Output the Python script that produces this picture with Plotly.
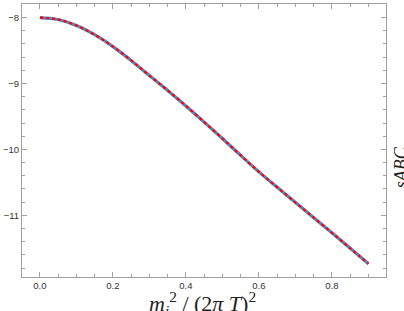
import plotly.graph_objects as go

x_vals = [0.0, 0.05, 0.1, 0.15, 0.2, 0.25, 0.3, 0.35, 0.4, 0.45, 0.5, 0.55, 0.6, 0.65, 0.7, 0.75, 0.8, 0.85, 0.9]
y_vals = [-8.00, -8.03, -8.12, -8.26, -8.44, -8.65, -8.88, -9.105, -9.34, -9.585, -9.835, -10.09, -10.34, -10.575, -10.805, -11.035, -11.265, -11.50, -11.735]

x_ticks = [0.0, 0.2, 0.4, 0.6, 0.8]
x_ticklabels = ["0.0", "0.2", "0.4", "0.6", "0.8"]
y_ticks = [-8, -9, -10, -11]

x_title = "<i>m</i><sub><i>i</i></sub><sup>2</sup> / (2<i>π</i> <i>T</i>)<sup>2</sup>"
y_title = "<i>sABC</i>"

fig = go.Figure()
fig.add_trace(go.Scatter(x=x_vals, y=y_vals, mode="lines", line=dict(color="#5E81B5", width=3.2, shape="spline", smoothing=1.0), hoverinfo="skip"))
fig.add_trace(go.Scatter(x=x_vals, y=y_vals, mode="lines", line=dict(color="#FF0000", width=2.2, dash="3px,3px", shape="spline", smoothing=1.0), hoverinfo="skip"))

axis_common = dict(
    showgrid=False, zeroline=False, showline=True, linecolor="#A0A0A0", linewidth=1,
    mirror="allticks", tickcolor="#A0A0A0", tickwidth=1, ticklen=5, automargin=False,
    tickfont=dict(family="Liberation Sans, Arial", size=9.5, color="#333333"),
)

fig.update_xaxes(range=[-0.049, 0.948], tickvals=x_ticks, ticktext=x_ticklabels,
                 minor=dict(dtick=0.05, tick0=0, ticks="inside", ticklen=3, tickcolor="#A0A0A0", showgrid=False),
                 ticks="inside", **axis_common)
fig.update_yaxes(range=[-11.935, -7.794], tickvals=y_ticks,
                 minor=dict(dtick=0.2, tick0=0, ticks="inside", ticklen=3, tickcolor="#A0A0A0", showgrid=False),
                 ticks="inside", **axis_common)

fig.update_layout(
    width=404, height=311,
    margin=dict(l=22, r=18, t=4, b=34, autoexpand=False),
    paper_bgcolor="white", plot_bgcolor="white",
    showlegend=False,
    annotations=[
        dict(text=x_title, xref="paper", yref="paper", x=0.495, y=-0.097, xanchor="center", yanchor="middle",
             showarrow=False, font=dict(family="Liberation Serif, Times New Roman", size=22, color="#222222")),
        dict(text=y_title, xref="paper", yref="paper", x=1.04, y=0.40, xanchor="center", yanchor="middle",
             textangle=-90, showarrow=False, font=dict(family="Liberation Serif, Times New Roman", size=18, color="#222222")),
    ],
)

fig.write_html("out.html", config={"displayModeBar": False},
               post_script="document.body.style.margin='0px';document.body.style.overflow='hidden';")
